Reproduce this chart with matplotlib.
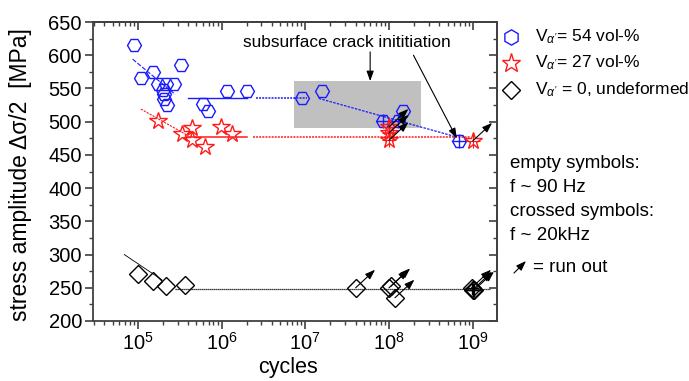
import matplotlib
matplotlib.use("Agg")
import matplotlib.pyplot as plt
from matplotlib.lines import Line2D
from matplotlib.patches import Rectangle, FancyArrowPatch
from matplotlib.text import OffsetFrom
from matplotlib.ticker import LogLocator, MultipleLocator, FixedLocator, NullFormatter

plt.rcParams['font.family'] = ['Liberation Sans', 'DejaVu Sans']
plt.rcParams['mathtext.fontset'] = 'custom'
plt.rcParams['mathtext.rm'] = 'Liberation Sans'
plt.rcParams['mathtext.it'] = 'Liberation Sans:italic'

# ---------------- data ----------------
blue_n = [8.9e4, 1.09e5, 1.5e5, 1.74e5, 2.18e5, 2.7e5, 3.24e5, 2.0e5, 2.05e5, 2.06e5, 2.26e5,
          6.0e5, 6.9e5, 1.16e6, 2.04e6, 9.1e6, 1.58e7, 1.48e8]
blue_s = [615, 565, 575, 556, 557, 556, 585, 548, 541, 534, 525,
          526, 516, 546, 546, 535, 546, 516]
blue_x_n = [8.6e7, 1.28e8, 6.8e8]
blue_x_s = [501, 501, 471]

red_n = [1.76e5, 3.35e5, 4.5e5, 4.5e5, 6.4e5, 9.8e5, 1.32e6]
red_s = [501, 481, 491, 472, 462, 492, 481]
red_x_n = [1.0e8, 1.0e8, 1.0e8, 1.0e9]
red_x_s = [492, 483, 472, 471]

blk_n = [1.0e5, 1.5e5, 2.2e5, 3.7e5, 4.0e7, 1.0e8, 1.05e8, 1.18e8]
blk_s = [270, 260, 253, 254, 250, 250, 252, 235]
blk_x_n = [0.97e9, 1.0e9, 1.05e9]
blk_x_s = [250, 247, 247]

# run-out points
runout_n = [1.0e8, 1.0e8, 1.0e8, 1.0e9, 4.0e7, 1.0e8, 1.05e8, 1.18e8, 0.97e9, 1.0e9, 1.05e9]
runout_s = [492, 483, 472, 471, 250, 250, 252, 235, 250, 247, 247]

# trend lines
blue_fit1_n, blue_fit1_s = [8.7e4, 2.8e5], [594, 541]
blue_fit2_n, blue_fit2_s = [4.0e5, 2.0e6], [536, 536]
blue_fit3_n, blue_fit3_s = [2.6e6, 1.05e7], [536, 536]
blue_fit4_n, blue_fit4_s = [1.45e7, 6.4e8], [535, 477]
red_fit1_n, red_fit1_s = [1.09e5, 3.85e5], [519, 480]
red_fit2_n, red_fit2_s = [3.85e5, 2.0e6], [477, 477]
red_fit3_n, red_fit3_s = [2.4e6, 9.4e8], [477, 477]
blk_fit1_n, blk_fit1_s = [6.9e4, 1.94e5], [300, 262]
blk_fit2_n, blk_fit2_s = [2.8e5, 1.6e9], [248, 248]

rect_n = [7.3e6, 2.4e8]
rect_s = [491, 561]

y_ticks = [200, 250, 300, 350, 400, 450, 500, 550, 600, 650]

# ---------------- figure ----------------
W, H = 689, 381
fig = plt.figure(figsize=(W / 100, H / 100), dpi=100)
L, R, T, B = 93, 497, 22, 321
ax = fig.add_axes([L / W, 1 - B / H, (R - L) / W, (B - T) / H])
ax.set_xscale('log')
ax.set_xlim(2.92e4, 1.95e9)
ax.set_ylim(200, 650)

BLUE = '#1a1aff'
RED = '#ff1a1a'
ms = 10

ax.add_patch(Rectangle((rect_n[0], rect_s[0]), rect_n[1] - rect_n[0], rect_s[1] - rect_s[0],
                       facecolor='#c0c0c0', edgecolor='none', zorder=0))

# trend lines
ax.plot(blue_fit1_n, blue_fit1_s, color=BLUE, lw=0.8, ls=(0, (4, 1.5)), zorder=2)
ax.plot(blue_fit2_n, blue_fit2_s, color=BLUE, lw=1.0, zorder=2)
ax.plot(blue_fit3_n, blue_fit3_s, color=BLUE, lw=1.4, ls=(0, (1, 0.6)), alpha=0.8, zorder=2)
ax.plot(blue_fit4_n, blue_fit4_s, color=BLUE, lw=0.9, ls=(0, (2, 1)), zorder=2)
ax.plot(red_fit1_n, red_fit1_s, color=RED, lw=0.8, ls=(0, (2, 1)), zorder=2)
ax.plot(red_fit2_n, red_fit2_s, color=RED, lw=1.1, zorder=2)
ax.plot(red_fit3_n, red_fit3_s, color=RED, lw=1.4, ls=(0, (1, 0.6)), alpha=0.8, zorder=2)
ax.plot(blk_fit1_n, blk_fit1_s, color='black', lw=0.6, zorder=2)
ax.plot(blk_fit2_n, blk_fit2_s, color='black', lw=0.9, ls=(0, (1, 0.6)), zorder=2)

# markers
mk = dict(ls='none', mfc='none', ms=ms, mew=1.0, zorder=3)
ax.plot(blue_n, blue_s, marker='H', mec=BLUE, **mk)
ax.plot(blue_x_n, blue_x_s, marker='H', mec=BLUE, **mk)
ax.plot(blue_x_n, blue_x_s, marker='+', mec=BLUE, ls='none', ms=ms, mew=1.0, zorder=3)
ax.plot(red_n, red_s, marker='*', mec=RED, ls='none', mfc='none', ms=ms + 3, mew=1.0, zorder=3)
ax.plot(red_x_n, red_x_s, marker='*', mec=RED, ls='none', mfc='none', ms=ms + 3, mew=1.0, zorder=3)
ax.plot(red_x_n, red_x_s, marker='+', mec=RED, ls='none', ms=ms, mew=0.8, zorder=3)
ax.plot(blk_n, blk_s, marker='D', mec='black', ls='none', mfc='none', ms=ms - 1, mew=1.0, zorder=3)
ax.plot(blk_x_n, blk_x_s, marker='D', mec='black', ls='none', mfc='none', ms=ms - 1, mew=1.0, zorder=3)
ax.plot(blk_x_n, blk_x_s, marker='+', mec='black', ls='none', ms=ms, mew=1.0, zorder=3)

# run-out arrows
ARROW = '-|>,head_length=0.5,head_width=0.18'
arr = dict(arrowstyle=ARROW, color='black', lw=0.8, shrinkA=0, shrinkB=0, mutation_scale=12)
for n, s in zip(runout_n, runout_s):
    ax.annotate('', xy=(14, 13), xycoords=OffsetFrom(ax.transData, (n, s), unit='points'),
                xytext=(n, s), textcoords='data', arrowprops=arr, zorder=4)

# annotation
ax.text(3.14e7, 619, 'subsurface crack inititiation', ha='center', va='center', fontsize=12.4)
ax.annotate('', xy=(5.96e7, 561), xytext=(5.96e7, 605), arrowprops=arr)
ax.annotate('', xy=(6.45e8, 475), xytext=(1.96e8, 600), arrowprops=arr)

# axes styling
SP = '#404040'
for s in ax.spines.values():
    s.set_color(SP)
    s.set_linewidth(1.3)
ax.xaxis.set_major_locator(LogLocator(base=10, numticks=20))
ax.xaxis.set_minor_locator(LogLocator(base=10, subs=range(2, 10), numticks=20))
ax.xaxis.set_minor_formatter(NullFormatter())
ax.yaxis.set_major_locator(FixedLocator(y_ticks))
ax.yaxis.set_minor_locator(MultipleLocator(25))
ax.tick_params(which='major', direction='out', length=6, width=1.2, color=SP, labelsize=14.5, pad=2)
ax.tick_params(which='minor', direction='out', length=3, width=1.0, color=SP)

sx = ax.secondary_xaxis('top')
sx.xaxis.set_major_locator(LogLocator(base=10, numticks=20))
sx.xaxis.set_minor_locator(LogLocator(base=10, subs=range(2, 10), numticks=20))
sx.tick_params(which='major', direction='in', length=6, width=1.2, color=SP, labeltop=False)
sx.tick_params(which='minor', direction='in', length=3, width=1.0, color=SP)
sx.xaxis.set_minor_formatter(NullFormatter())
sx.xaxis.set_major_formatter(NullFormatter())
sy = ax.secondary_yaxis('right')
sy.yaxis.set_major_locator(FixedLocator(y_ticks))
sy.yaxis.set_minor_locator(MultipleLocator(25))
sy.tick_params(which='major', direction='in', length=6, width=1.2, color=SP, labelright=False)
sy.tick_params(which='minor', direction='in', length=3, width=1.0, color=SP)
for s in list(sx.spines.values()) + list(sy.spines.values()):
    s.set_color(SP)
    s.set_linewidth(1.3)

ax.set_xlabel('cycles', fontsize=15.5)
ax.xaxis.set_label_coords(0.483, -0.12)
ax.set_ylabel('stress amplitude \u0394\u03c3/2  [MPa]', fontsize=16.5)
ax.yaxis.set_label_coords(-0.15, 0.49)

# legend / side notes
def fx(x):
    return x / W

def fy(y):
    return 1 - y / H

leg = [('h', BLUE, 11, r"V$_{\alpha'}$= 54 vol-%"),
       ('*', RED, 14, r"V$_{\alpha'}$= 27 vol-%"),
       ('D', 'black', 9, r"V$_{\alpha'}$ = 0, undeformed")]
leg_y = [37, 63, 90]
for (m, c, s, t), y in zip(leg, leg_y):
    fig.add_artist(Line2D([fx(511)], [fy(y)], transform=fig.transFigure, marker=m, ms=s,
                          mfc='none', mec=c, mew=1.0, ls='none'))
    fig.text(fx(535), fy(y), t, fontsize=12.5, va='center', ha='left')

notes = ['empty symbols:', 'f ~ 90 Hz', 'crossed symbols:', 'f ~ 20kHz']
for t, y in zip(notes, [163, 188, 211, 235]):
    fig.text(fx(510), fy(y), t, fontsize=13.5, va='center', ha='left')
fig.add_artist(FancyArrowPatch((fx(512), fy(275)), (fx(528), fy(259)),
                               transform=fig.transFigure, arrowstyle=ARROW,
                               color='black', lw=0.8, mutation_scale=12))
fig.text(fx(533), fy(268), '= run out', fontsize=13.5, va='center', ha='left')

fig.savefig('out.png', dpi=100)
